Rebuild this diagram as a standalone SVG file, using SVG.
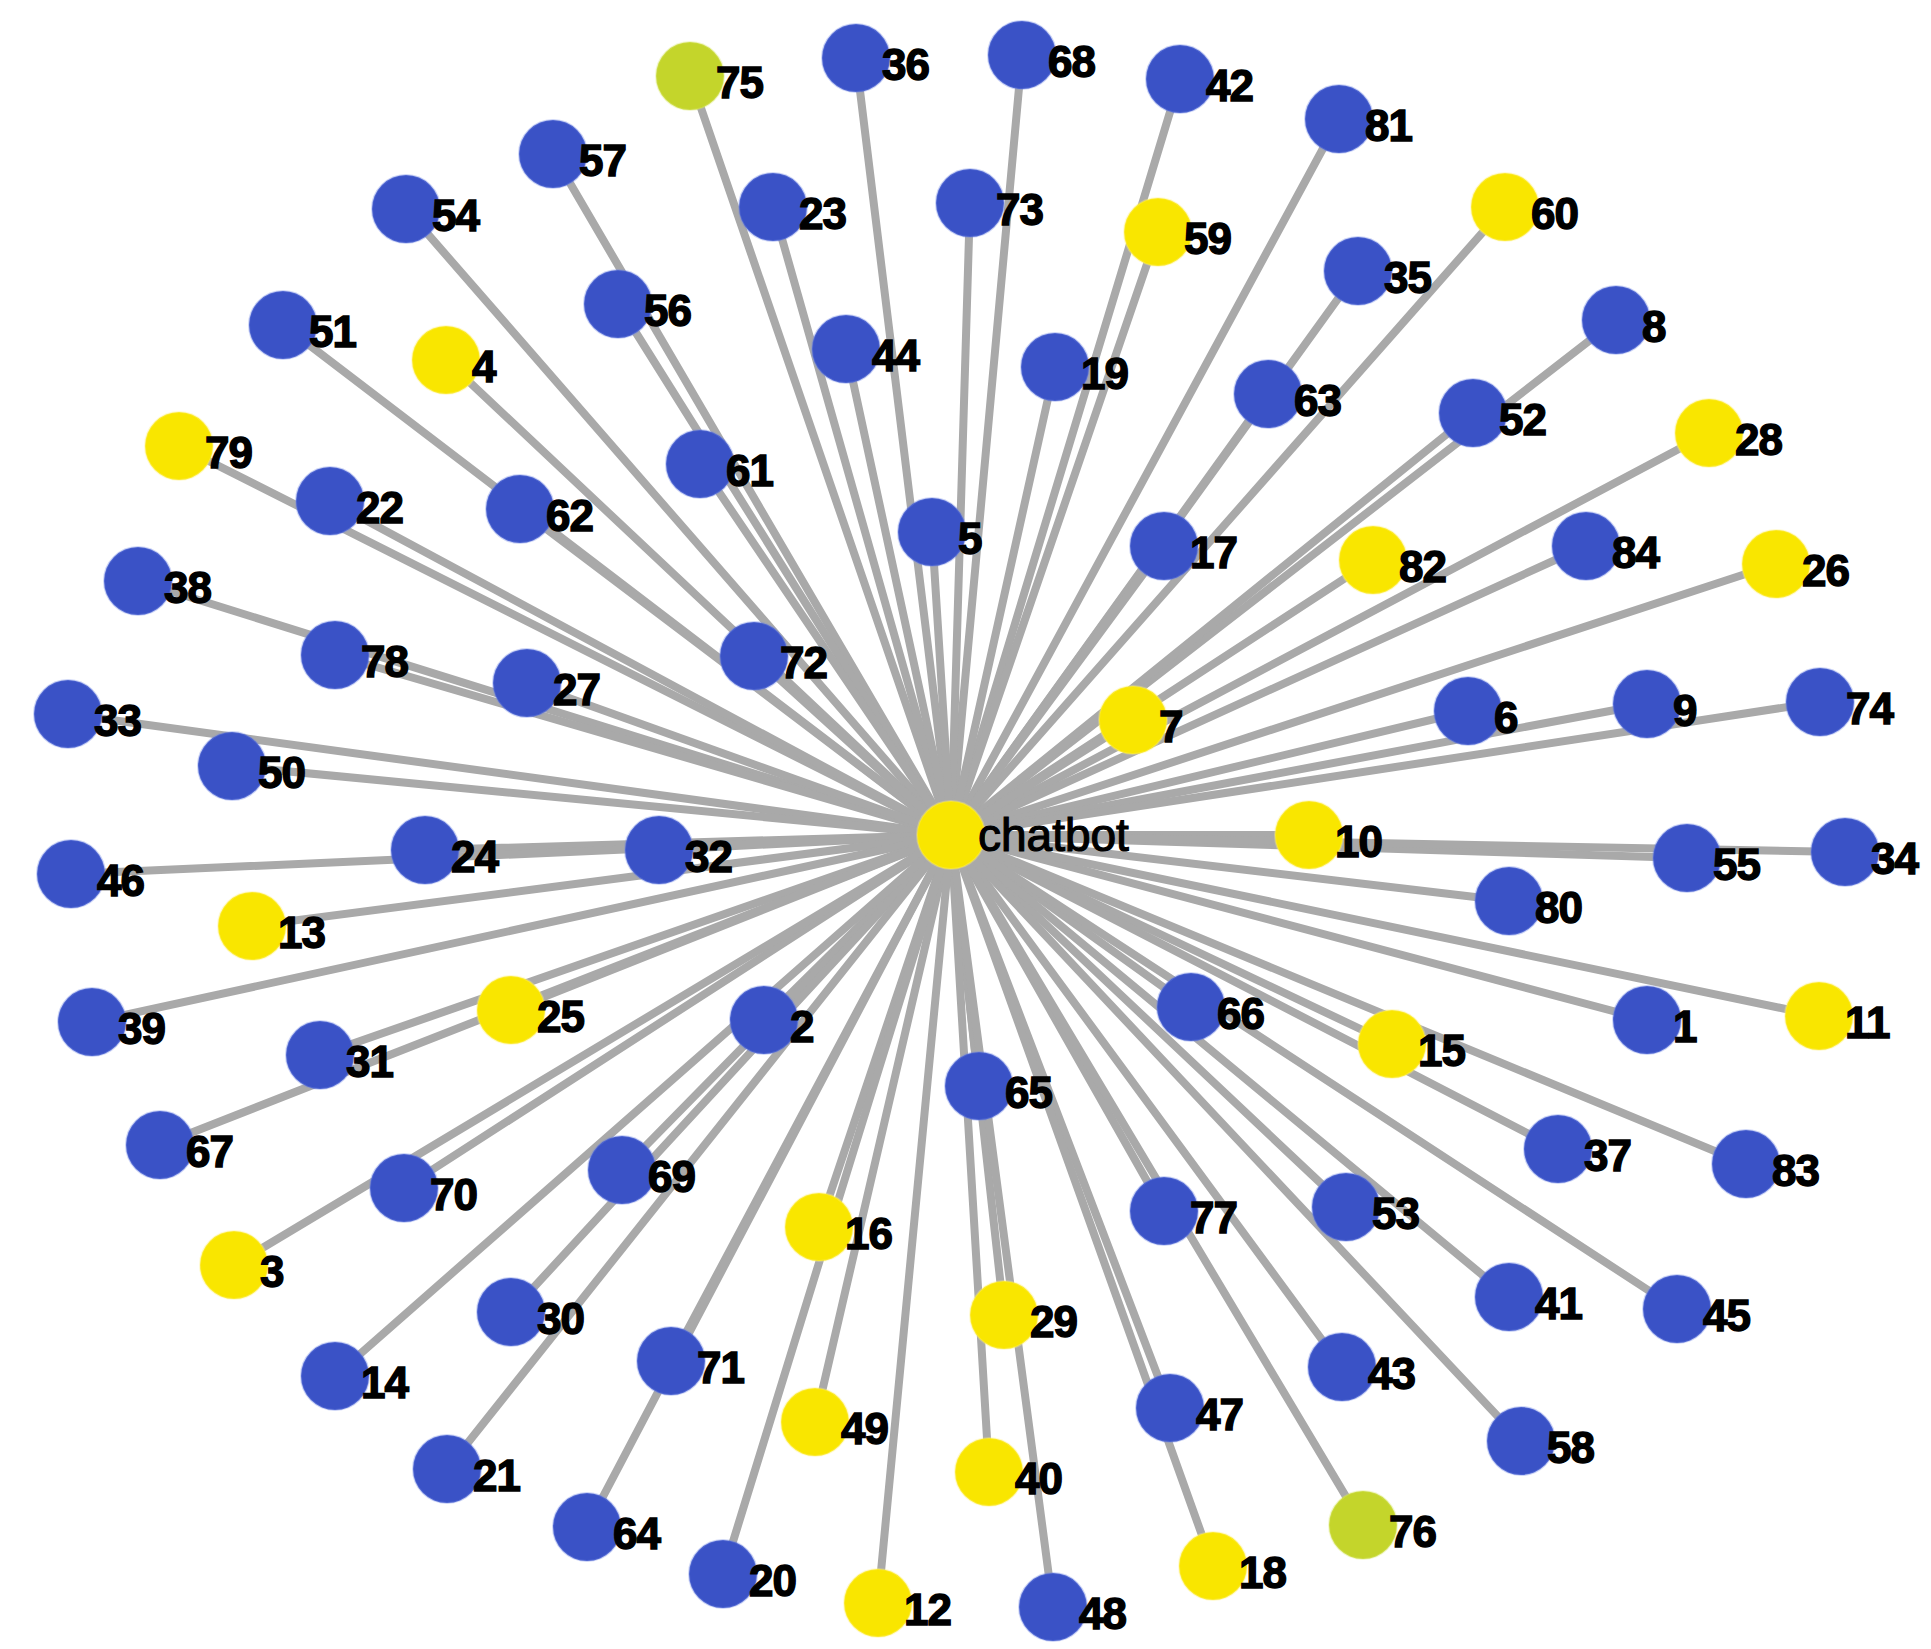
<svg xmlns="http://www.w3.org/2000/svg" width="1931" height="1649" viewBox="0 0 1931 1649">
<style>
.e{stroke:#a9a9a9;stroke-width:8;stroke-linecap:round}
.b{fill:#3a52c6}
.y{fill:#f9e600}
.g{fill:#c4d52b}
circle{stroke-width:2;stroke-opacity:0.35}
circle.b{stroke:#6f86e6}
circle.y{stroke:#fff27a}
circle.g{stroke:#dbe870}
text{font-family:"Liberation Sans",Arial,sans-serif;font-size:44px;font-weight:bold;fill:#000;stroke:#000;stroke-width:1.4px;letter-spacing:-1px}
text.c{font-weight:normal;font-size:46px;letter-spacing:0;stroke-width:1.2px}
</style>
<rect width="1931" height="1649" fill="#ffffff"/>
<g id="edges">
<line class="e" x1="951" y1="835" x2="690" y2="76"/>
<line class="e" x1="951" y1="835" x2="856" y2="58"/>
<line class="e" x1="951" y1="835" x2="1022" y2="55"/>
<line class="e" x1="951" y1="835" x2="1180" y2="79"/>
<line class="e" x1="951" y1="835" x2="1339" y2="119"/>
<line class="e" x1="951" y1="835" x2="553" y2="154"/>
<line class="e" x1="951" y1="835" x2="773" y2="207"/>
<line class="e" x1="951" y1="835" x2="970" y2="203"/>
<line class="e" x1="951" y1="835" x2="1158" y2="232"/>
<line class="e" x1="951" y1="835" x2="1505" y2="207"/>
<line class="e" x1="951" y1="835" x2="406" y2="209"/>
<line class="e" x1="951" y1="835" x2="618" y2="304"/>
<line class="e" x1="951" y1="835" x2="846" y2="349"/>
<line class="e" x1="951" y1="835" x2="1055" y2="367"/>
<line class="e" x1="951" y1="835" x2="1358" y2="271"/>
<line class="e" x1="951" y1="835" x2="1268" y2="394"/>
<line class="e" x1="951" y1="835" x2="1616" y2="320"/>
<line class="e" x1="951" y1="835" x2="283" y2="325"/>
<line class="e" x1="951" y1="835" x2="446" y2="360"/>
<line class="e" x1="951" y1="835" x2="1473" y2="413"/>
<line class="e" x1="951" y1="835" x2="1709" y2="433"/>
<line class="e" x1="951" y1="835" x2="179" y2="446"/>
<line class="e" x1="951" y1="835" x2="330" y2="501"/>
<line class="e" x1="951" y1="835" x2="520" y2="509"/>
<line class="e" x1="951" y1="835" x2="700" y2="464"/>
<line class="e" x1="951" y1="835" x2="932" y2="532"/>
<line class="e" x1="951" y1="835" x2="1164" y2="546"/>
<line class="e" x1="951" y1="835" x2="1373" y2="560"/>
<line class="e" x1="951" y1="835" x2="1586" y2="546"/>
<line class="e" x1="951" y1="835" x2="1776" y2="564"/>
<line class="e" x1="951" y1="835" x2="138" y2="581"/>
<line class="e" x1="951" y1="835" x2="335" y2="655"/>
<line class="e" x1="951" y1="835" x2="527" y2="683"/>
<line class="e" x1="951" y1="835" x2="754" y2="656"/>
<line class="e" x1="951" y1="835" x2="1133" y2="720"/>
<line class="e" x1="951" y1="835" x2="1468" y2="711"/>
<line class="e" x1="951" y1="835" x2="1647" y2="704"/>
<line class="e" x1="951" y1="835" x2="1820" y2="702"/>
<line class="e" x1="951" y1="835" x2="68" y2="714"/>
<line class="e" x1="951" y1="835" x2="232" y2="766"/>
<line class="e" x1="951" y1="835" x2="425" y2="850"/>
<line class="e" x1="951" y1="835" x2="659" y2="850"/>
<line class="e" x1="951" y1="835" x2="1309" y2="835"/>
<line class="e" x1="951" y1="835" x2="1687" y2="858"/>
<line class="e" x1="951" y1="835" x2="1845" y2="852"/>
<line class="e" x1="951" y1="835" x2="71" y2="874"/>
<line class="e" x1="951" y1="835" x2="252" y2="926"/>
<line class="e" x1="951" y1="835" x2="1509" y2="901"/>
<line class="e" x1="951" y1="835" x2="92" y2="1022"/>
<line class="e" x1="951" y1="835" x2="511" y2="1010"/>
<line class="e" x1="951" y1="835" x2="320" y2="1055"/>
<line class="e" x1="951" y1="835" x2="764" y2="1020"/>
<line class="e" x1="951" y1="835" x2="1191" y2="1007"/>
<line class="e" x1="951" y1="835" x2="1392" y2="1044"/>
<line class="e" x1="951" y1="835" x2="1647" y2="1020"/>
<line class="e" x1="951" y1="835" x2="1819" y2="1016"/>
<line class="e" x1="951" y1="835" x2="979" y2="1086"/>
<line class="e" x1="951" y1="835" x2="160" y2="1145"/>
<line class="e" x1="951" y1="835" x2="1558" y2="1149"/>
<line class="e" x1="951" y1="835" x2="1746" y2="1164"/>
<line class="e" x1="951" y1="835" x2="404" y2="1188"/>
<line class="e" x1="951" y1="835" x2="622" y2="1170"/>
<line class="e" x1="951" y1="835" x2="819" y2="1227"/>
<line class="e" x1="951" y1="835" x2="1164" y2="1211"/>
<line class="e" x1="951" y1="835" x2="1346" y2="1207"/>
<line class="e" x1="951" y1="835" x2="234" y2="1265"/>
<line class="e" x1="951" y1="835" x2="1509" y2="1297"/>
<line class="e" x1="951" y1="835" x2="1677" y2="1309"/>
<line class="e" x1="951" y1="835" x2="511" y2="1312"/>
<line class="e" x1="951" y1="835" x2="1004" y2="1315"/>
<line class="e" x1="951" y1="835" x2="671" y2="1361"/>
<line class="e" x1="951" y1="835" x2="1342" y2="1367"/>
<line class="e" x1="951" y1="835" x2="335" y2="1376"/>
<line class="e" x1="951" y1="835" x2="815" y2="1422"/>
<line class="e" x1="951" y1="835" x2="1170" y2="1408"/>
<line class="e" x1="951" y1="835" x2="1521" y2="1441"/>
<line class="e" x1="951" y1="835" x2="989" y2="1472"/>
<line class="e" x1="951" y1="835" x2="447" y2="1469"/>
<line class="e" x1="951" y1="835" x2="587" y2="1527"/>
<line class="e" x1="951" y1="835" x2="1363" y2="1525"/>
<line class="e" x1="951" y1="835" x2="1213" y2="1566"/>
<line class="e" x1="951" y1="835" x2="723" y2="1574"/>
<line class="e" x1="951" y1="835" x2="878" y2="1603"/>
<line class="e" x1="951" y1="835" x2="1053" y2="1607"/>
</g>
<g id="nodes">
<g id="n75"><circle class="g" cx="690" cy="76" r="34"/><text x="716" y="98">75</text></g>
<g id="n36"><circle class="b" cx="856" cy="58" r="34"/><text x="882" y="80">36</text></g>
<g id="n68"><circle class="b" cx="1022" cy="55" r="34"/><text x="1048" y="77">68</text></g>
<g id="n42"><circle class="b" cx="1180" cy="79" r="34"/><text x="1206" y="101">42</text></g>
<g id="n81"><circle class="b" cx="1339" cy="119" r="34"/><text x="1365" y="141">81</text></g>
<g id="n57"><circle class="b" cx="553" cy="154" r="34"/><text x="579" y="176">57</text></g>
<g id="n23"><circle class="b" cx="773" cy="207" r="34"/><text x="799" y="229">23</text></g>
<g id="n73"><circle class="b" cx="970" cy="203" r="34"/><text x="996" y="225">73</text></g>
<g id="n59"><circle class="y" cx="1158" cy="232" r="34"/><text x="1184" y="254">59</text></g>
<g id="n60"><circle class="y" cx="1505" cy="207" r="34"/><text x="1531" y="229">60</text></g>
<g id="n54"><circle class="b" cx="406" cy="209" r="34"/><text x="432" y="231">54</text></g>
<g id="n56"><circle class="b" cx="618" cy="304" r="34"/><text x="644" y="326">56</text></g>
<g id="n44"><circle class="b" cx="846" cy="349" r="34"/><text x="872" y="371">44</text></g>
<g id="n19"><circle class="b" cx="1055" cy="367" r="34"/><text x="1081" y="389">19</text></g>
<g id="n35"><circle class="b" cx="1358" cy="271" r="34"/><text x="1384" y="293">35</text></g>
<g id="n63"><circle class="b" cx="1268" cy="394" r="34"/><text x="1294" y="416">63</text></g>
<g id="n8"><circle class="b" cx="1616" cy="320" r="34"/><text x="1642" y="342">8</text></g>
<g id="n51"><circle class="b" cx="283" cy="325" r="34"/><text x="309" y="347">51</text></g>
<g id="n4"><circle class="y" cx="446" cy="360" r="34"/><text x="472" y="382">4</text></g>
<g id="n52"><circle class="b" cx="1473" cy="413" r="34"/><text x="1499" y="435">52</text></g>
<g id="n28"><circle class="y" cx="1709" cy="433" r="34"/><text x="1735" y="455">28</text></g>
<g id="n79"><circle class="y" cx="179" cy="446" r="34"/><text x="205" y="468">79</text></g>
<g id="n22"><circle class="b" cx="330" cy="501" r="34"/><text x="356" y="523">22</text></g>
<g id="n62"><circle class="b" cx="520" cy="509" r="34"/><text x="546" y="531">62</text></g>
<g id="n61"><circle class="b" cx="700" cy="464" r="34"/><text x="726" y="486">61</text></g>
<g id="n5"><circle class="b" cx="932" cy="532" r="34"/><text x="958" y="554">5</text></g>
<g id="n17"><circle class="b" cx="1164" cy="546" r="34"/><text x="1190" y="568">17</text></g>
<g id="n82"><circle class="y" cx="1373" cy="560" r="34"/><text x="1399" y="582">82</text></g>
<g id="n84"><circle class="b" cx="1586" cy="546" r="34"/><text x="1612" y="568">84</text></g>
<g id="n26"><circle class="y" cx="1776" cy="564" r="34"/><text x="1802" y="586">26</text></g>
<g id="n38"><circle class="b" cx="138" cy="581" r="34"/><text x="164" y="603">38</text></g>
<g id="n78"><circle class="b" cx="335" cy="655" r="34"/><text x="361" y="677">78</text></g>
<g id="n27"><circle class="b" cx="527" cy="683" r="34"/><text x="553" y="705">27</text></g>
<g id="n72"><circle class="b" cx="754" cy="656" r="34"/><text x="780" y="678">72</text></g>
<g id="n7"><circle class="y" cx="1133" cy="720" r="34"/><text x="1159" y="742">7</text></g>
<g id="n6"><circle class="b" cx="1468" cy="711" r="34"/><text x="1494" y="733">6</text></g>
<g id="n9"><circle class="b" cx="1647" cy="704" r="34"/><text x="1673" y="726">9</text></g>
<g id="n74"><circle class="b" cx="1820" cy="702" r="34"/><text x="1846" y="724">74</text></g>
<g id="n33"><circle class="b" cx="68" cy="714" r="34"/><text x="94" y="736">33</text></g>
<g id="n50"><circle class="b" cx="232" cy="766" r="34"/><text x="258" y="788">50</text></g>
<g id="n24"><circle class="b" cx="425" cy="850" r="34"/><text x="451" y="872">24</text></g>
<g id="n32"><circle class="b" cx="659" cy="850" r="34"/><text x="685" y="872">32</text></g>
<g id="n10"><circle class="y" cx="1309" cy="835" r="34"/><text x="1335" y="857">10</text></g>
<g id="n55"><circle class="b" cx="1687" cy="858" r="34"/><text x="1713" y="880">55</text></g>
<g id="n34"><circle class="b" cx="1845" cy="852" r="34"/><text x="1871" y="874">34</text></g>
<g id="n46"><circle class="b" cx="71" cy="874" r="34"/><text x="97" y="896">46</text></g>
<g id="n13"><circle class="y" cx="252" cy="926" r="34"/><text x="278" y="948">13</text></g>
<g id="n80"><circle class="b" cx="1509" cy="901" r="34"/><text x="1535" y="923">80</text></g>
<g id="n39"><circle class="b" cx="92" cy="1022" r="34"/><text x="118" y="1044">39</text></g>
<g id="n25"><circle class="y" cx="511" cy="1010" r="34"/><text x="537" y="1032">25</text></g>
<g id="n31"><circle class="b" cx="320" cy="1055" r="34"/><text x="346" y="1077">31</text></g>
<g id="n2"><circle class="b" cx="764" cy="1020" r="34"/><text x="790" y="1042">2</text></g>
<g id="n66"><circle class="b" cx="1191" cy="1007" r="34"/><text x="1217" y="1029">66</text></g>
<g id="n15"><circle class="y" cx="1392" cy="1044" r="34"/><text x="1418" y="1066">15</text></g>
<g id="n1"><circle class="b" cx="1647" cy="1020" r="34"/><text x="1673" y="1042">1</text></g>
<g id="n11"><circle class="y" cx="1819" cy="1016" r="34"/><text x="1845" y="1038">11</text></g>
<g id="n65"><circle class="b" cx="979" cy="1086" r="34"/><text x="1005" y="1108">65</text></g>
<g id="n67"><circle class="b" cx="160" cy="1145" r="34"/><text x="186" y="1167">67</text></g>
<g id="n37"><circle class="b" cx="1558" cy="1149" r="34"/><text x="1584" y="1171">37</text></g>
<g id="n83"><circle class="b" cx="1746" cy="1164" r="34"/><text x="1772" y="1186">83</text></g>
<g id="n70"><circle class="b" cx="404" cy="1188" r="34"/><text x="430" y="1210">70</text></g>
<g id="n69"><circle class="b" cx="622" cy="1170" r="34"/><text x="648" y="1192">69</text></g>
<g id="n16"><circle class="y" cx="819" cy="1227" r="34"/><text x="845" y="1249">16</text></g>
<g id="n77"><circle class="b" cx="1164" cy="1211" r="34"/><text x="1190" y="1233">77</text></g>
<g id="n53"><circle class="b" cx="1346" cy="1207" r="34"/><text x="1372" y="1229">53</text></g>
<g id="n3"><circle class="y" cx="234" cy="1265" r="34"/><text x="260" y="1287">3</text></g>
<g id="n41"><circle class="b" cx="1509" cy="1297" r="34"/><text x="1535" y="1319">41</text></g>
<g id="n45"><circle class="b" cx="1677" cy="1309" r="34"/><text x="1703" y="1331">45</text></g>
<g id="n30"><circle class="b" cx="511" cy="1312" r="34"/><text x="537" y="1334">30</text></g>
<g id="n29"><circle class="y" cx="1004" cy="1315" r="34"/><text x="1030" y="1337">29</text></g>
<g id="n71"><circle class="b" cx="671" cy="1361" r="34"/><text x="697" y="1383">71</text></g>
<g id="n43"><circle class="b" cx="1342" cy="1367" r="34"/><text x="1368" y="1389">43</text></g>
<g id="n14"><circle class="b" cx="335" cy="1376" r="34"/><text x="361" y="1398">14</text></g>
<g id="n49"><circle class="y" cx="815" cy="1422" r="34"/><text x="841" y="1444">49</text></g>
<g id="n47"><circle class="b" cx="1170" cy="1408" r="34"/><text x="1196" y="1430">47</text></g>
<g id="n58"><circle class="b" cx="1521" cy="1441" r="34"/><text x="1547" y="1463">58</text></g>
<g id="n40"><circle class="y" cx="989" cy="1472" r="34"/><text x="1015" y="1494">40</text></g>
<g id="n21"><circle class="b" cx="447" cy="1469" r="34"/><text x="473" y="1491">21</text></g>
<g id="n64"><circle class="b" cx="587" cy="1527" r="34"/><text x="613" y="1549">64</text></g>
<g id="n76"><circle class="g" cx="1363" cy="1525" r="34"/><text x="1389" y="1547">76</text></g>
<g id="n18"><circle class="y" cx="1213" cy="1566" r="34"/><text x="1239" y="1588">18</text></g>
<g id="n20"><circle class="b" cx="723" cy="1574" r="34"/><text x="749" y="1596">20</text></g>
<g id="n12"><circle class="y" cx="878" cy="1603" r="34"/><text x="904" y="1625">12</text></g>
<g id="n48"><circle class="b" cx="1053" cy="1607" r="34"/><text x="1079" y="1629">48</text></g>
<g id="nchatbot"><circle class="y" cx="951" cy="835" r="34"/><text class="c" x="978" y="851">chatbot</text></g>
</g>
</svg>
